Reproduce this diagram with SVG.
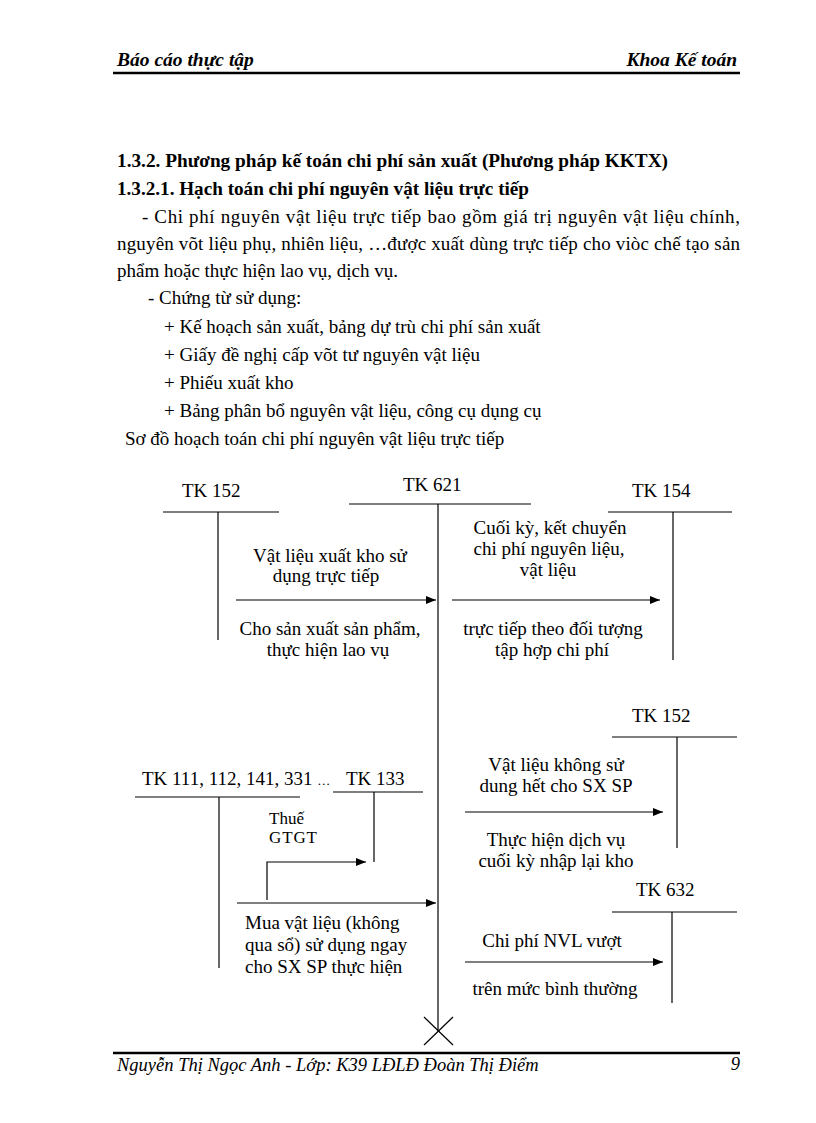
<svg xmlns="http://www.w3.org/2000/svg" width="816" height="1123" viewBox="0 0 816 1123">
<defs>
<marker id="ah" viewBox="0 0 10 8" refX="10" refY="4" markerWidth="10" markerHeight="8" markerUnits="userSpaceOnUse" orient="auto">
<path d="M0,0 L10,4 L0,8 Z" fill="#000"/>
</marker>
<style>
text{font-family:"Liberation Serif","Times New Roman",serif;fill:#000}
.hd{font-size:19.5px;font-weight:bold;font-style:italic}
.ft{font-size:18.5px;font-style:italic}
.h{font-size:19px;font-weight:bold}
.b{font-size:19px}
.d{font-size:19px}
.s{font-size:17px}
.m{text-anchor:middle}
.ln{stroke:#000;stroke-width:1.2;fill:none}
.ar{stroke:#000;stroke-width:1.2;fill:none;marker-end:url(#ah)}
.rule{stroke:#000;stroke-width:2.5}
</style>
</defs>
<rect width="816" height="1123" fill="#fff"/>
<g id="header">
<text class="hd" x="117" y="66">Báo cáo thực tập</text>
<text class="hd" x="737" y="66" text-anchor="end">Khoa Kế toán</text>
<line class="rule" x1="113" y1="73" x2="740" y2="73"/>
</g>
<g id="body">
<text class="h" x="117" y="167" textLength="551" lengthAdjust="spacingAndGlyphs">1.3.2. Phương pháp kế toán chi phí sản xuất  (Phương pháp KKTX)</text>
<text class="h" x="117" y="195" textLength="412" lengthAdjust="spacingAndGlyphs">1.3.2.1. Hạch toán chi phí nguyên vật liệu trực tiếp</text>
<text class="b" x="142" y="223" textLength="598" lengthAdjust="spacing">- Chi phí nguyên vật liệu trực tiếp bao gồm giá trị nguyên vật liệu  chính,</text>
<text class="b" x="117" y="250" textLength="623" lengthAdjust="spacing">nguyên võt liệu phụ, nhiên liệu,  …được xuất dùng trực tiếp  cho viòc chế tạo sản</text>
<text class="b" x="117" y="277">phẩm hoặc thực hiện lao vụ, dịch vụ.</text>
<text class="b" x="148" y="304">- Chứng từ sử dụng:</text>
<text class="b" x="164" y="333">+ Kế hoạch sản xuất, bảng dự trù chi phí sản xuất</text>
<text class="b" x="164" y="361">+ Giấy đề nghị  cấp võt tư nguyên  vật liệu</text>
<text class="b" x="164" y="389">+ Phiếu xuất kho</text>
<text class="b" x="164" y="417">+ Bảng phân bổ nguyên vật liệu,  công cụ dụng cụ</text>
<text class="b" x="125" y="445">Sơ đồ hoạch toán chi phí nguyên vật liệu  trực tiếp</text>
</g>
<g id="tk152a">
<text class="d" x="182" y="497">TK 152</text>
<line class="ln" x1="163" y1="512" x2="279" y2="512"/>
<line class="ln" x1="218" y1="512" x2="218" y2="640"/>
</g>
<g id="tk621">
<text class="d" x="403" y="491">TK 621</text>
<line class="ln" x1="349" y1="504" x2="531" y2="504"/>
<line class="ln" x1="438" y1="504" x2="438" y2="1031"/>
<line class="ln" x1="424" y1="1017" x2="453" y2="1045"/>
<line class="ln" x1="453" y1="1017" x2="424" y2="1045"/>
</g>
<g id="tk154">
<text class="d" x="632" y="497">TK 154</text>
<line class="ln" x1="608" y1="512" x2="732" y2="512"/>
<line class="ln" x1="673" y1="512" x2="673" y2="660"/>
</g>
<g id="tk152b">
<text class="d" x="632" y="722">TK 152</text>
<line class="ln" x1="612" y1="737" x2="737" y2="737"/>
<line class="ln" x1="677" y1="737" x2="677" y2="848"/>
</g>
<g id="tk632">
<text class="d" x="636" y="896">TK 632</text>
<line class="ln" x1="612" y1="912" x2="737" y2="912"/>
<line class="ln" x1="672" y1="912" x2="672" y2="1003"/>
</g>
<g id="tk111">
<text class="d" x="142" y="785">TK 111, 112, 141, 331 <tspan font-size="13">…</tspan></text>
<line class="ln" x1="135" y1="797" x2="300" y2="797"/>
<line class="ln" x1="219" y1="797" x2="219" y2="968"/>
</g>
<g id="tk133">
<text class="d" x="346" y="785">TK 133</text>
<line class="ln" x1="333" y1="792" x2="423" y2="792"/>
<line class="ln" x1="374" y1="792" x2="374" y2="862"/>
</g>
<g id="connectors">
<line class="ar" x1="236" y1="600" x2="436" y2="600"/>
<line class="ar" x1="452" y1="600" x2="660" y2="600"/>
<line class="ar" x1="465" y1="812" x2="663" y2="812"/>
<line class="ar" x1="465" y1="962" x2="663" y2="962"/>
<line class="ar" x1="237" y1="903" x2="436" y2="903"/>
<polyline class="ar" points="267,900 267,862 366,862"/>
</g>
<g id="labels">
<text class="d m" x="330" y="562">Vật liệu xuất kho sử</text>
<text class="d m" x="326" y="582">dụng trực tiếp</text>
<text class="d m" x="330" y="635">Cho sản xuất sản phẩm,</text>
<text class="d m" x="328" y="656">thực hiện lao vụ</text>
<text class="d m" x="550" y="534">Cuối kỳ, kết chuyển</text>
<text class="d m" x="549" y="555">chi phí nguyên liệu,</text>
<text class="d m" x="548" y="576">vật liệu</text>
<text class="d m" x="553" y="635">trực tiếp theo đối tượng</text>
<text class="d m" x="552" y="656">tập hợp chi phí</text>
<text class="d m" x="556" y="771">Vật liệu  không sử</text>
<text class="d m" x="556" y="792">dung hết cho SX SP</text>
<text class="d m" x="556" y="846">Thực hiện dịch vụ</text>
<text class="d m" x="556" y="867">cuối kỳ nhập lại kho</text>
<text class="d m" x="552" y="947">Chi phí NVL vượt</text>
<text class="d m" x="555" y="995">trên mức bình thường</text>
<text class="s" x="269" y="824">Thuế</text>
<text class="s" x="269" y="843" textLength="48" lengthAdjust="spacing">GTGT</text>
<text class="d" x="245" y="929">Mua vật liệu  (không</text>
<text class="d" x="245" y="951">qua sổ) sử dụng ngay</text>
<text class="d" x="245" y="973">cho SX SP thực hiện</text>
</g>
<g id="footer">
<line class="rule" x1="113" y1="1053" x2="740" y2="1053"/>
<text class="ft" x="117" y="1071">Nguyễn  Thị  Ngọc Anh - Lớp: K39 LĐLĐ  Đoàn Thị  Điểm</text>
<text class="ft" x="740" y="1070" text-anchor="end" font-style="normal">9</text>
</g>
</svg>
